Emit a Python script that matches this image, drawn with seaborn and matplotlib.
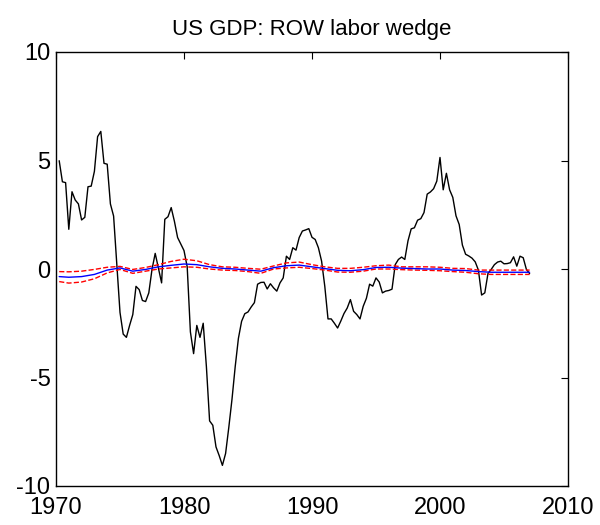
import numpy as np
import pandas as pd
import matplotlib
matplotlib.use("Agg")
import matplotlib.pyplot as plt
import seaborn as sns

# ---- data ----
wedge_start = 1970.25
wedge = [
    4.99, 4.02, 3.98, 1.83,            # 1970.25 .. 1971.0
    3.56, 3.18, 3.00, 2.26,            # 1971.25 .. 1972.0
    2.38, 3.79, 3.82, 4.50,            # 1972.25 .. 1973.0
    6.10, 6.34, 4.87, 4.83,            # 1973.25 .. 1974.0
    3.00, 2.44, 0.20, -2.00,           # 1974.25 .. 1975.0
    -3.00, -3.15, -2.60, -2.10,        # 1975.25 .. 1976.0
    -0.80, -0.95, -1.45, -1.50,        # 1976.25 .. 1977.0
    -1.10, -0.02, 0.72, 0.05,          # 1977.25 .. 1978.0
    -0.64, 2.29, 2.41, 2.83,           # 1978.25 .. 1979.0
    2.20, 1.45, 1.15, 0.85,            # 1979.25 .. 1980.0
    0.10, -2.90, -3.90, -2.60,         # 1980.25 .. 1981.0
    -3.15, -2.50, -4.50, -7.00,        # 1981.25 .. 1982.0
    -7.20, -8.20, -8.60, -9.05,        # 1982.25 .. 1983.0
    -8.50, -7.30, -6.00, -4.50,        # 1983.25 .. 1984.0
    -3.20, -2.41, -2.06, -1.98,        # 1984.25 .. 1985.0
    -1.75, -1.55, -0.70, -0.62,        # 1985.25 .. 1986.0
    -0.61, -0.92, -0.68, -0.87,        # 1986.25 .. 1987.0
    -1.02, -0.64, -0.41, 0.59,         # 1987.25 .. 1988.0
    0.44, 0.98, 0.87, 1.45,            # 1988.25 .. 1989.0
    1.75, 1.80, 1.86, 1.46,            # 1989.25 .. 1990.0
    1.36, 0.98, 0.36, -0.80,           # 1990.25 .. 1991.0
    -2.30, -2.30, -2.50, -2.72,        # 1991.25 .. 1992.0
    -2.40, -2.05, -1.80, -1.41,        # 1992.25 .. 1993.0
    -1.95, -2.10, -2.30, -1.72,        # 1993.25 .. 1994.0
    -1.35, -0.70, -0.79, -0.41,        # 1994.25 .. 1995.0
    -0.60, -1.10, -1.02, -0.99,        # 1995.25 .. 1996.0
    -0.93, 0.20, 0.44, 0.55,           # 1996.25 .. 1997.0
    0.44, 1.30, 1.85, 1.90,            # 1997.25 .. 1998.0
    2.25, 2.32, 2.60, 3.45,            # 1998.25 .. 1999.0
    3.55, 3.70, 4.05, 5.14,            # 1999.25 .. 2000.0
    3.65, 4.41, 3.65, 3.30,            # 2000.25 .. 2001.0
    2.45, 2.05, 1.10, 0.68,            # 2001.25 .. 2002.0
    0.60, 0.50, 0.33, -0.05,           # 2002.25 .. 2003.0
    -1.20, -1.10, -0.20, -0.02,        # 2003.25 .. 2004.0
    0.20, 0.32, 0.36, 0.24,            # 2004.25 .. 2005.0
    0.25, 0.29, 0.56, 0.13,            # 2005.25 .. 2006.0
    0.59, 0.52, -0.02, -0.21,          # 2006.25 .. 2007.0
]

band_years = [1970.25] + list(range(1971, 2008))
median = [-0.35, -0.38, -0.35, -0.25, -0.05, 0.05, -0.10, -0.02, 0.10, 0.17,
          0.23, 0.20, 0.10, 0.03, 0.00, -0.05, -0.10, 0.06, 0.15, 0.18,
          0.10, 0.02, -0.06, -0.08, -0.03, 0.07, 0.08, 0.04, 0.02, 0.00,
          0.00, -0.05, -0.07, -0.12, -0.15, -0.15, -0.15, -0.15]
upper = [-0.12, -0.13, -0.10, -0.02, 0.08, 0.12, -0.02, 0.07, 0.20, 0.35,
         0.45, 0.38, 0.20, 0.10, 0.08, 0.03, -0.01, 0.14, 0.28, 0.32,
         0.20, 0.10, 0.03, 0.03, 0.08, 0.15, 0.18, 0.10, 0.10, 0.10,
         0.08, 0.03, 0.02, -0.05, -0.05, -0.05, -0.05, -0.05]
lower = [-0.58, -0.65, -0.60, -0.45, -0.18, -0.02, -0.20, -0.10, 0.00, 0.05,
         0.10, 0.08, 0.00, -0.05, -0.07, -0.12, -0.20, 0.00, 0.05, 0.08,
         0.02, -0.05, -0.14, -0.15, -0.10, 0.00, 0.00, -0.03, -0.05, -0.06,
         -0.08, -0.12, -0.15, -0.22, -0.25, -0.25, -0.25, -0.25]

x_ticks = [1970, 1980, 1990, 2000, 2010]
y_ticks = [-10, -5, 0, 5, 10]
title = "US GDP: ROW labor wedge"

# ---- frames ----
wedge_years = wedge_start + 0.25 * np.arange(len(wedge))
df_w = pd.DataFrame({"year": wedge_years, "value": wedge})
df_b = pd.DataFrame({"year": band_years, "median": median, "upper": upper, "lower": lower})

sns.set_style("white")
plt.rcParams["font.family"] = ["Liberation Sans", "DejaVu Sans"]

fig = plt.figure(figsize=(6, 5.25), dpi=100)
ax = fig.add_axes([56 / 600, 1 - 486 / 525, 512 / 600, 434 / 525])

sns.lineplot(data=df_w, x="year", y="value", ax=ax, color="black", lw=1.0)
sns.lineplot(data=df_b, x="year", y="upper", ax=ax, color="red", lw=1.0, linestyle="--")
sns.lineplot(data=df_b, x="year", y="lower", ax=ax, color="red", lw=1.0, linestyle="--")
sns.lineplot(data=df_b, x="year", y="median", ax=ax, color="blue", lw=1.0)

ax.set_xlim(1970, 2010)
ax.set_ylim(-10, 10)
ax.set_xticks(x_ticks)
ax.set_yticks(y_ticks)
ax.set_xticklabels([str(t) for t in x_ticks])
ax.set_yticklabels([str(t) for t in y_ticks])
ax.set_xlabel("")
ax.set_ylabel("")
ax.tick_params(direction="in", length=5, width=0.8, top=True, right=True,
               labelsize=17, colors="black")
ax.tick_params(axis="x", pad=8)
ax.tick_params(axis="y", pad=4)
for s in ax.spines.values():
    s.set_color("black")
    s.set_linewidth(1.0)
ax.set_title(title, fontsize=16, pad=12, color="black")

fig.savefig("out.png", dpi=100, facecolor="white")
